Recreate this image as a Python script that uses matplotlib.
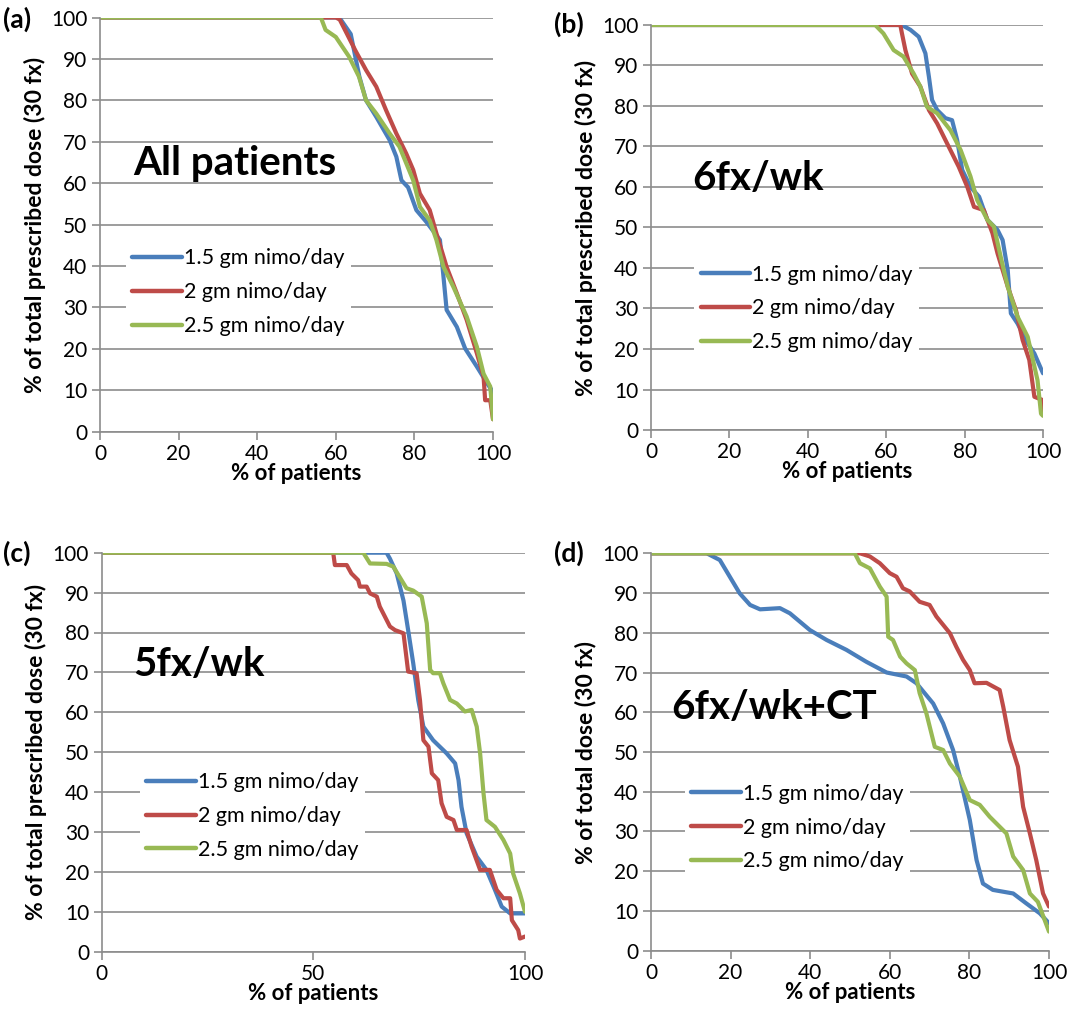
import matplotlib
matplotlib.use("Agg")
import matplotlib.pyplot as plt

plt.rcParams['font.family'] = ['Lato', 'DejaVu Sans']

# colours used by the original spreadsheet chart
BLUE = '#4a7ebb'
RED = '#be4b48'
GREEN = '#98b954'
GRID = '#8c8c8c'

series_names = ['1.5 gm nimo/day', '2 gm nimo/day', '2.5 gm nimo/day']

# ---- panel (a): all patients
a_blue_x = [0, 60.9, 63.8, 66, 67.7, 70.3, 73.7, 75.4, 76.7, 78.4, 80.5, 83, 86.5, 87.4, 88.2, 90.8, 92.9, 95.9, 98.5, 99.7, 100]
a_blue_y = [100, 100, 96, 85.7, 80, 76, 70.4, 66.4, 60.7, 59, 53.5, 50.7, 46.3, 37.4, 29.4, 25.3, 20.1, 15.7, 11.7, 10, 6]
a_red_x = [0, 60, 61, 65, 67.7, 70.3, 72.8, 75.4, 77.9, 79.7, 81.4, 83.9, 85.6, 88.2, 90.8, 93.3, 95.9, 97.6, 98, 99.3, 100]
a_red_y = [100, 100, 99.5, 92, 87.3, 83.3, 77.6, 72, 67.2, 63.2, 57.5, 53.5, 47.9, 39.8, 33.4, 27, 18.9, 13.3, 7.6, 7.6, 3]
a_green_x = [0, 56.2, 57.4, 60, 63.4, 65.9, 67.7, 70.3, 73.7, 76.2, 79.7, 81.4, 83.9, 85.6, 87.4, 89.9, 93.3, 95.9, 97.6, 99.3, 100]
a_green_y = [100, 100, 97, 95.3, 90.5, 85.7, 80, 76.8, 72, 68.8, 60.7, 54.3, 51, 46.3, 39.8, 35, 27.8, 20.5, 14, 10.9, 3]

# ---- panel (b): 6fx/wk
b_blue_x = [0, 64, 66.2, 68.3, 70, 70.9, 71.7, 73, 75.1, 76.8, 78.1, 79.4, 81.5, 83.7, 85.8, 88.4, 89.7, 91, 91.8, 93.5, 96.1, 97.8, 100]
b_blue_y = [100, 100, 98.8, 97.1, 93, 87.2, 81.5, 79, 77, 76.5, 71.6, 64.2, 60, 57.6, 51.9, 49.4, 46.9, 39.5, 28.8, 26.3, 21.4, 18.9, 14]
b_red_x = [0, 63.6, 64, 64.9, 66.6, 68.7, 70.9, 73, 75.1, 76.8, 78.5, 80.7, 82.4, 84.9, 87.1, 88.4, 91, 93.1, 94.8, 96.5, 97.8, 99.9, 100]
b_red_y = [100, 100, 98, 93.8, 88, 84.8, 79, 75.7, 71.6, 68.3, 65, 60, 55.1, 54.3, 48.6, 43.6, 35.4, 29.6, 22.2, 17.3, 8.2, 7.4, 4]
b_green_x = [0, 57.2, 59.3, 61.9, 64.4, 67, 68.7, 70.4, 73, 76.4, 79, 81.5, 83.2, 85.8, 87.5, 89.2, 91, 93.5, 96.1, 98.6, 99.5, 100]
b_green_y = [100, 100, 97.9, 93.8, 92.2, 88, 84.8, 79.8, 78.2, 74, 69.1, 62.6, 56.8, 51.9, 50.2, 42.8, 35.4, 28, 23, 12.3, 4, 3.5]

# ---- panel (c): 5fx/wk
c_blue_x = [0, 67.3, 68.1, 69.7, 71.3, 72.4, 73.6, 74.8, 76, 78.3, 81.5, 83.5, 84.3, 85, 86.2, 88.6, 90.9, 92.9, 94.5, 96.5, 100]
c_blue_y = [100, 100, 98.5, 94.8, 88, 80.6, 72.3, 63, 56.4, 53, 49.7, 47.2, 43, 36.3, 29.7, 23.8, 20.5, 15.5, 11.3, 9.6, 9.6]
c_red_x = [0, 54.7, 55.1, 57.9, 59, 60.6, 61, 62.6, 63.4, 65, 65.7, 66.9, 68.1, 69.3, 71.3, 72.4, 74.4, 75.2, 76, 77.2, 78,
           79.5, 80.3, 81.5, 83.1, 83.9, 86.2, 87.4, 89.4, 91.7, 93.3, 94.9, 96.5, 96.9, 98.4, 98.8, 100]
c_red_y = [100, 100, 96.9, 96.9, 94.8, 93.1, 91.5, 91.5, 89.8, 89, 86.5, 84, 81.5, 80.6, 79.8, 70.2, 69.8, 63, 53, 51.4, 44.7,
           43, 37.2, 33.8, 33, 30.5, 30.5, 26.3, 20.5, 20.5, 15.5, 13.4, 13.4, 7.9, 5.4, 3.3, 3.8]
c_green_x = [0, 61.8, 63.4, 67.3, 68.9, 72, 73.6, 75.6, 76.8, 77.6, 78.3, 79.9, 80.7, 82.3, 83.9, 85.8, 87.4, 88.6, 89.4, 90.2,
             90.9, 92.9, 94.9, 96.5, 97.2, 98.8, 100]
c_green_y = [100, 100, 97.3, 97.2, 96.5, 91.1, 90.5, 89, 82.3, 70.6, 69.8, 69.8, 67.3, 63.1, 62.2, 60.2, 60.6, 56.4, 49.7, 39.7,
             33, 31.3, 28, 24.6, 19.6, 14.6, 10]

# ---- panel (d): 6fx/wk+CT
d_blue_x = [0, 14, 17.3, 19.8, 22.3, 24.9, 27.4, 32.4, 34.9, 39.9, 44.1, 49.1, 54.1, 59.2, 64.2, 66.7, 70.9, 73.4, 75.9, 77.6,
            80.1, 81.8, 83.4, 85.9, 91, 94.3, 97.7, 100]
d_blue_y = [100, 100, 98.3, 94.1, 89.9, 87, 85.9, 86.2, 84.9, 80.7, 78.2, 75.7, 72.7, 70, 69, 67.3, 62.2, 57.2, 50.5, 43.8,
            32.9, 22.8, 16.9, 15.3, 14.4, 11.9, 9.4, 6.9]
d_red_x = [0, 52.5, 55, 57.5, 60, 61.7, 63.3, 65, 67.5, 70, 71.7, 73.4, 75.1, 76.7, 78.4, 80.1, 81.3, 84.3, 87.6, 88.5, 90.1,
           92.2, 93.5, 95.2, 96.8, 98.5, 100]
d_red_y = [100, 100, 99.2, 97.5, 95, 94.1, 91.2, 90.4, 87.8, 87, 84.1, 82, 79.9, 76.5, 73.2, 70.6, 67.3, 67.4, 65.6, 61.4, 53,
           46.3, 36.2, 29.5, 22.8, 14.4, 11.1]
d_green_x = [0, 51.2, 52.5, 55, 57.5, 59.2, 59.6, 60.8, 62.6, 64.2, 66.3, 67.5, 69.2, 71.3, 73.4, 75.1, 77.6, 80.1, 82.6, 85.1,
             87.6, 89.3, 91, 93.5, 95.2, 97.2, 100]
d_green_y = [100, 100, 97.5, 96.2, 91.6, 89.1, 79, 78.2, 74, 72.3, 70.6, 64.8, 59.7, 51.3, 50.5, 47.1, 43.8, 37.9, 36.7, 33.7,
             31.2, 29.5, 23.7, 20.3, 14.4, 12.3, 4.8]

W, H = 1069, 1018
fig = plt.figure(figsize=(W / 100, H / 100), dpi=100)


def px_axes(left, top, right, bottom):
    return fig.add_axes([left / W, 1 - bottom / H, (right - left) / W, (bottom - top) / H])


def panel(ax, data, xticks, title, title_xy, ylabel, leg_xy, tag, tag_xy):
    for (x, y), c in zip(data, [BLUE, RED, GREEN]):
        ax.plot(x, y, color=c, lw=3, solid_joinstyle='round', solid_capstyle='round')
    ax.set_xlim(0, 100)
    ax.set_ylim(0, 100)
    ax.set_yticks(range(0, 101, 10))
    ax.set_xticks(xticks)
    ax.yaxis.grid(True, color=GRID, lw=1.2)
    ax.set_axisbelow(True)
    for s in ['top', 'right']:
        ax.spines[s].set_visible(False)
    for s in ['left', 'bottom']:
        ax.spines[s].set_color(GRID)
        ax.spines[s].set_linewidth(1.2)
    ax.tick_params(direction='out', length=6, width=1.2, color=GRID, labelsize=15, pad=3)
    ax.set_xlabel('% of patients', fontsize=16, fontweight='bold', labelpad=-1)
    ax.set_ylabel(ylabel, fontsize=16.5, fontweight='bold', labelpad=4)
    ax.text(title_xy[0], title_xy[1], title, fontsize=29, fontweight='bold', va='center', ha='left')
    leg = ax.legend(series_names, loc='center left', bbox_to_anchor=leg_xy, fontsize=15.5, frameon=True,
                    fancybox=False, edgecolor='none', facecolor='white', framealpha=1, handlelength=2.3,
                    handletextpad=0.1, labelspacing=0.65, borderpad=0.3, borderaxespad=0)
    for ln in leg.get_lines():
        ln.set_linewidth(3.2)
    fig.text(tag_xy[0] / W, 1 - tag_xy[1] / H, tag, fontsize=19, fontweight='bold', va='center', ha='left')


ax_a = px_axes(100, 17.5, 493, 431.7)
panel(ax_a, [(a_blue_x, a_blue_y), (a_red_x, a_red_y), (a_green_x, a_green_y)], range(0, 101, 20),
      'All patients', (8.5, 64.8), '% of total prescribed dose (30 fx)', (0.065, 0.337), '(a)', (3, 19))

ax_b = px_axes(651, 25, 1043, 430)
panel(ax_b, [(b_blue_x, b_blue_y), (b_red_x, b_red_y), (b_green_x, b_green_y)], range(0, 101, 20),
      '6fx/wk', (10.5, 62), '% of total prescribed dose (30 fx)', (0.11, 0.30), '(b)', (554, 24))

ax_c = px_axes(101.6, 552.7, 525, 951.7)
panel(ax_c, [(c_blue_x, c_blue_y), (c_red_x, c_red_y), (c_green_x, c_green_y)], [0, 50, 100],
      '5fx/wk', (7.4, 72), '% of total prescribed dose (30 fx)', (0.09, 0.34), '(c)', (3, 553))

ax_d = px_axes(651, 553.3, 1049, 950.7)
panel(ax_d, [(d_blue_x, d_blue_y), (d_red_x, d_red_y), (d_green_x, d_green_y)], range(0, 101, 20),
      '6fx/wk+CT', (5.2, 61.2), '% of total dose (30 fx)', (0.085, 0.31), '(d)', (554, 553))

fig.savefig('out.png', dpi=100)
